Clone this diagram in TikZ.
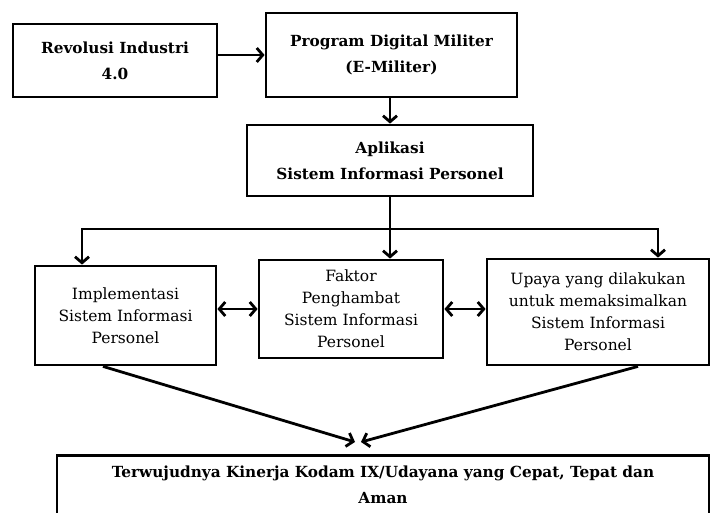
\documentclass[tikz,border=0pt]{standalone}
\usepackage{amsmath}
\usepackage{fontspec}
\setmainfont{DejaVu Serif}[BoldFont={DejaVu Serif Bold}]
\usepackage{tikz}
\usetikzlibrary{calc}
\usetikzlibrary{arrows.meta}
\usetikzlibrary{positioning}

\begin{document}
\begin{tikzpicture}
  [
    x = 1pt, y = -1pt,
    line width = 2.8pt,
    >= {Straight Barb[length=6pt, width=14pt]},
    box/.style = {draw, align=center, inner sep=0pt},
    boldbox/.style = {box, font=\fontsize{15.3}{26}\selectfont\bfseries},
    plainbox/.style = {box, font=\fontsize{15.5}{22}\selectfont}
  ]
\useasboundingbox (0, 0) rectangle (712, 512);
\clip (0, 0) rectangle (712, 512);

% ---------------------------------------------------
% Top row
\node[boldbox, minimum width=204, minimum height=73] (revolusi) at (115, 60.5) {Revolusi Industri\\4.0};
\node[boldbox, minimum width=251, minimum height=84] (program)  at (391.5, 55) {Program Digital Militer\\(E-Militer)};
\node[boldbox, minimum width=286, minimum height=71] (aplikasi) at (390, 160.5) {Aplikasi\\Sistem Informasi Personel};

% Middle row
\node[plainbox, minimum width=181, minimum height=99]  (implementasi) at (125.5, 315.5) {Implementasi\\Sistem Informasi\\Personel};
\node[plainbox, minimum width=184, minimum height=98]  (faktor)       at (351, 309)     {Faktor\\Penghambat\\Sistem Informasi\\Personel};
\node[plainbox, minimum width=222, minimum height=106] (upaya)        at (598, 312)     {Upaya yang dilakukan\\untuk memaksimalkan\\Sistem Informasi\\Personel};

% Result (runs past the lower edge)
\node[boldbox, anchor=north, minimum width=652, inner ysep=10pt, text depth=30pt] (hasil) at (383, 454)
  {Terwujudnya Kinerja Kodam IX/Udayana yang Cepat, Tepat dan\\Aman};

% ---------------------------------------------------
% Top arrows
\path[] (revolusi.east |- program.west)
        edge[->] (program.west);
\path[] (aplikasi.north |- program.south)
        edge[->] (aplikasi.north);

% Branch to the three boxes
\coordinate[] (busL) at ( 82, 229);
\coordinate[] (busR) at (658, 229);
\path[] (aplikasi.south)
        edge[->] (aplikasi.south |- faktor.north);
\draw[<->] (busL |- implementasi.north) -- (busL) -- (busR) -- (busR |- upaya.north);

% Between the middle boxes
\path[] (implementasi.east |- faktor.west)
        edge[<->] (faktor.west);
\path[] (faktor.east)
        edge[<->] (faktor.east -| upaya.west);

% Down to the result
\coordinate[] (tipL) at (355, 442);
\coordinate[] (tipR) at (361, 442);
\path[] ([xshift=-22.5pt]implementasi.south)
        edge[->] (tipL);
\path[] ([xshift=40pt]upaya.south)
        edge[->] (tipR);
% ---------------------------------------------------
\end{tikzpicture}
\end{document}
